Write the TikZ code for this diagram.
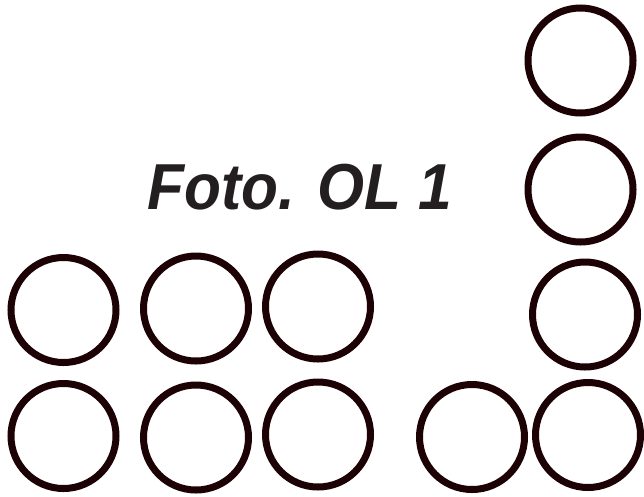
\documentclass[tikz,border=0pt]{standalone}
\usepackage{fontspec}
\setmainfont{Liberation Sans}
\definecolor{ringcol}{HTML}{1C0204}
\definecolor{textcol}{HTML}{231F20}
\begin{document}
\begin{tikzpicture}[x=1pt,y=-1pt,
  ring/.style={circle,draw=ringcol,line width=7pt,minimum size=105pt,inner sep=0pt},
  label/.style={text=textcol,font=\fontsize{65}{65}\selectfont\bfseries\itshape,inner sep=0pt,anchor=base west}]
\useasboundingbox (0,0) rectangle (644,496);
\node[ring] (r1) at (63.5,310) {};
\node[ring] (r2) at (196,308.5) {};
\node[ring] (r3) at (318,306.5) {};
\node[ring] (r4) at (63.5,436) {};
\node[ring] (r5) at (196,437.5) {};
\node[ring] (r6) at (318,434.5) {};
\node[ring] (r7) at (472,437) {};
\node[ring] (r8) at (588,435) {};
\node[ring] (c1) at (580.5,60.5) {};
\node[ring] (c2) at (580.5,189.5) {};
\node[ring] (c3) at (585,314.5) {};
\node[label,xscale=0.93] (t) at (147,209) {Foto. OL 1};
\end{tikzpicture}
\end{document}
